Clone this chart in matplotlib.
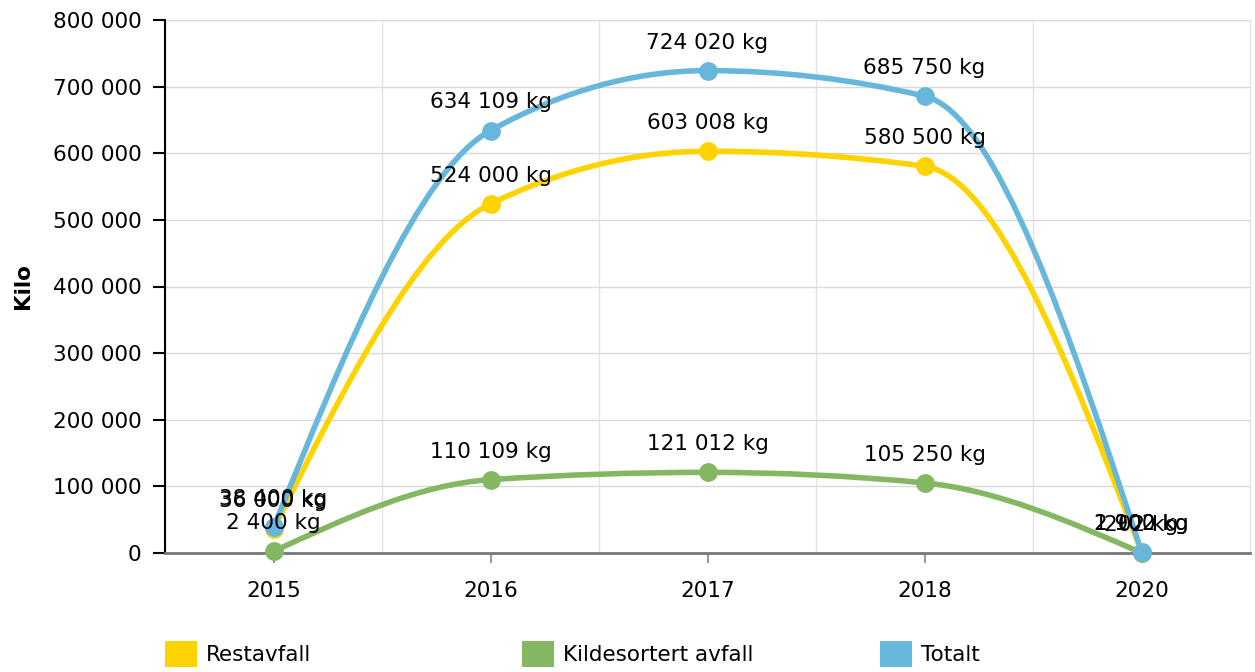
import matplotlib
matplotlib.use("Agg")
import matplotlib.pyplot as plt
from matplotlib.path import Path
from matplotlib.patches import PathPatch, Patch
from matplotlib.ticker import FuncFormatter

years = ["2015", "2016", "2017", "2018", "2020"]
restavfall = [36000, 524000, 603008, 580500, 1900]
kildesortert = [2400, 110109, 121012, 105250, 202]
totalt = [38400, 634109, 724020, 685750, 2102]

series_names = ["Restavfall", "Kildesortert avfall", "Totalt"]
series_vals = [restavfall, kildesortert, totalt]
colors = ["#fdd400", "#84b761", "#67b7dc"]


def fmt(v):
    return "{:,}".format(int(v)).replace(",", " ")


def sign(v):
    return (v > 0) - (v < 0)


def smooth_path(xs, ys):
    # monotone cubic (like d3 curveMonotoneX) as bezier segments
    n = len(xs)
    h = [xs[i + 1] - xs[i] for i in range(n - 1)]
    s = [(ys[i + 1] - ys[i]) / h[i] for i in range(n - 1)]
    t = [0.0] * n
    for i in range(1, n - 1):
        p = (s[i - 1] * h[i] + s[i] * h[i - 1]) / (h[i - 1] + h[i])
        t[i] = (sign(s[i - 1]) + sign(s[i])) * min(abs(s[i - 1]), abs(s[i]), 0.5 * abs(p))
    t[0] = (3 * s[0] - t[1]) / 2
    t[-1] = (3 * s[-1] - t[-2]) / 2
    verts = [(xs[0], ys[0])]
    codes = [Path.MOVETO]
    for i in range(1, n):
        dx = h[i - 1] / 3
        verts += [(xs[i - 1] + dx, ys[i - 1] + t[i - 1] * dx),
                  (xs[i] - dx, ys[i] - t[i] * dx),
                  (xs[i], ys[i])]
        codes += [Path.CURVE4] * 3
    return Path(verts, codes)


fig = plt.figure(figsize=(12.55, 6.72), dpi=100)
ax = fig.add_axes([165 / 1255, 1 - 553 / 672, (1250 - 165) / 1255, (553 - 20) / 672])

x = list(range(len(years)))
for name, vals, col in zip(series_names, series_vals, colors):
    p = smooth_path(x, vals)
    ax.add_patch(PathPatch(p, facecolor="none", edgecolor=col, lw=4, zorder=3,
                           capstyle="round", joinstyle="round"))
    ax.plot(x, vals, "o", color=col, ms=12.5, zorder=4, clip_on=False)
    for xi, v in zip(x, vals):
        ax.annotate(fmt(v) + " kg", (xi, v), xytext=(0, 13), textcoords="offset points",
                    ha="center", va="bottom", fontsize=15.5, color="black", zorder=5)

ax.set_xlim(-0.5, len(years) - 0.5)
ax.set_ylim(0, 800000)
ax.set_yticks(range(0, 800001, 100000))
ax.yaxis.set_major_formatter(FuncFormatter(lambda v, p: fmt(v)))
ax.set_xticks(x)
ax.set_xticklabels(years)
ax.set_xticks([i + 0.5 for i in range(-1, len(years))], minor=True)

ax.grid(axis="y", color="#d9d9d9", lw=1)
ax.grid(axis="x", which="minor", color="#e3e3e3", lw=1)
ax.set_axisbelow(True)
ax.spines["top"].set_visible(False)
ax.spines["right"].set_color("#e3e3e3")
ax.spines["left"].set_color("black")
ax.spines["left"].set_linewidth(1.5)
ax.spines["bottom"].set_color("#777777")
ax.spines["bottom"].set_linewidth(2)
ax.tick_params(axis="y", length=9, width=1.5, color="black", labelsize=15.5, pad=8)
ax.tick_params(axis="x", which="major", length=7, width=1.5, color="#999999", labelsize=15.5, pad=13)
ax.tick_params(axis="x", which="minor", length=0)
ax.set_ylabel("Kilo", fontsize=15.5, fontweight="bold", labelpad=14)

leg_x = [165, 522, 880]
for name, col, lx in zip(series_names, colors, leg_x):
    fig.legend(handles=[Patch(facecolor=col, edgecolor="none", label=name)],
               loc="upper left", bbox_to_anchor=(lx / 1255, 1 - 641 / 672),
               frameon=False, handlelength=1.5, handleheight=1.5, handletextpad=0.4,
               borderaxespad=0, borderpad=0,
               prop={"family": "DejaVu Sans", "size": 15.5})

fig.savefig("out.png", dpi=100)
